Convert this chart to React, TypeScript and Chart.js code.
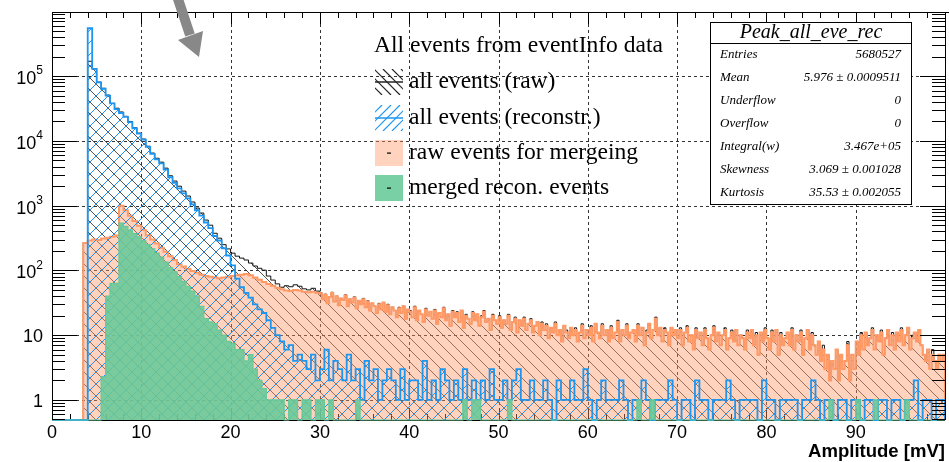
import React, { useEffect, useRef } from 'react';
import { Chart, registerables } from 'chart.js';

Chart.register(...registerables);

// ---------- axis ranges ----------
const X_MIN = 0;
const X_MAX = 100;
const Y_MIN = 0.49;
const Y_MAX = 9.8e5;

// ---------- all events (raw) ----------
// 0.5 mV bins from 3.5 mV to 30 mV
const RAW_HEAD_START = 3.5;
const RAW_HEAD_BIN = 0.5;
const rawHeadCounts = [
  270, 170000, 130000, 81000, 65000, 51000, 38000, 32000, 28000,
  24000, 20000, 16000, 13200, 10700, 8300, 6500, 5400, 4700, 3800,
  2900, 2400, 2000, 1680, 1410, 1140, 920, 770, 600, 500,
  375, 315, 250, 215, 185, 166, 155, 145, 130, 117,
  108, 101, 82, 71, 62, 55, 58, 56, 60, 57,
  52, 50, 53, 48,
];
// 0.25 mV bins from 30 mV to 100 mV
const RAW_TAIL_START = 30;
const RAW_TAIL_BIN = 0.25;
const rawTailCounts = [
  45, 36, 43, 31, 39, 46, 33, 40, 30, 37,
  35, 42, 28, 36, 32, 39, 26, 34, 30, 37,
  27, 34, 24, 31, 28, 22, 31, 25, 32, 23,
  30, 21, 27, 24, 19, 27, 22, 28, 18, 25,
  24, 19, 28, 17, 24, 21, 16, 26, 20, 23,
  18, 25, 15, 22, 19, 27, 17, 21, 14, 24,
  19, 23, 16, 24, 13, 21, 18, 15, 23, 17,
  21, 14, 20, 24, 16, 18, 12, 21, 17, 15,
  20, 13, 17, 15, 21, 12, 16, 19, 11, 17,
  14, 19, 12, 15, 18, 11, 14, 16, 10, 16,
  12, 15, 9, 13, 11, 16, 10, 12, 8, 14,
  12, 9, 13, 10, 13, 8, 11, 15, 9, 12,
  10, 14, 8, 15, 11, 9, 15, 10, 12, 8,
  14, 9, 11, 17, 8, 12, 10, 15, 9, 11,
  12, 8, 15, 10, 13, 7, 12, 15, 9, 12,
  19, 10, 13, 8, 13, 11, 7, 13, 11, 12,
  9, 13, 7, 11, 14, 8, 10, 6, 13, 9,
  11, 7, 13, 9, 6, 10, 14, 8, 11, 7,
  10, 13, 6, 9, 12, 8, 12, 7, 10, 9,
  6, 12, 9, 12, 7, 11, 5, 11, 8, 13,
  9, 6, 12, 8, 12, 5, 11, 7, 9, 11,
  7, 13, 6, 10, 8, 12, 5, 9, 12, 6,
  11, 7, 5, 8, 4, 7, 3, 5, 2, 4,
  3, 6, 2, 5, 3, 4, 8, 2, 5, 3,
  8, 5, 11, 6, 11, 7, 9, 13, 6, 10,
  8, 12, 5, 9, 12, 7, 11, 6, 11, 8,
  13, 7, 10, 13, 6, 10, 11, 8, 12, 7,
  5, 4, 6, 3, 6, 4, 3, 5, 4, 5,
];

// ---------- all events (reconstr.) : 0.5 mV bins from 4.0 mV ----------
const REC_START = 4.0;
const REC_BIN = 0.5;
const recCounts = [
  550000, 130000, 80000, 64000, 50000, 38000, 31000, 27000,
  23500, 19500, 15700, 13000, 10500, 8100, 6300, 5200, 4500, 3600,
  2750, 2250, 1850, 1550, 1300, 1050, 850, 700, 550, 450,
  340, 290, 220, 170, 120, 75, 55, 45, 38, 30,
  25, 22, 17, 13, 10, 8, 6, 7, 4, 5,
  4, 3, 5, 2, 3, 6, 2, 4, 3, 2,
  5, 2, 3, 1, 4, 2, 3, 1, 2, 3,
  2, 1, 3, 1, 2, 2, 1, 4, 1, 2,
  1, 3, 2, 1, 2, 1, 3, 1, 2, 1,
  2, 1, 3, 1, 1, 2, 1, 2, 3, 1,
  1, 2, 1, 1, 2, 1, 0, 2, 1, 1,
  2, 1, 1, 3, 1, 0, 1, 2, 1, 1,
  1, 2, 1, 0, 1, 1, 2, 1, 0, 1,
  1, 1, 2, 1, 0, 1, 1, 0, 2, 1,
  1, 0, 1, 1, 1, 2, 1, 0, 1, 1,
  1, 1, 0, 2, 1, 1, 0, 1, 1, 1,
  1, 0, 1, 1, 2, 1, 0, 1, 1, 0,
  1, 1, 0, 1, 1, 0, 1, 1, 0, 1,
  1, 0, 1, 1, 0, 1, 1, 2, 0, 1,
  1, 0, 1, 1,
];

// ---------- raw events for mergeing ----------
const MRAW_HEAD_START = 3.5;
const MRAW_HEAD_BIN = 0.5;
const mergeRawHeadCounts = [
  265, 290, 300, 295, 310, 320, 330, 345, 1000,
  850, 700, 580, 490, 420, 350, 300, 260, 225, 195,
  165, 145, 125, 115, 105, 98, 92, 86, 82, 80,
  78, 76, 78, 80, 82, 84, 86, 88, 84, 78,
  72, 66, 62, 58, 54, 51, 49, 48, 50, 49,
  47, 46, 47, 45,
];
const MRAW_TAIL_START = 30;
const MRAW_TAIL_BIN = 0.25;
const mergeRawTailCounts = [
  44, 36, 42, 31, 39, 45, 33, 40, 29, 37,
  35, 41, 28, 36, 32, 38, 26, 34, 30, 36,
  27, 33, 24, 31, 28, 22, 30, 25, 32, 23,
  29, 21, 27, 24, 19, 26, 22, 28, 18, 25,
  23, 19, 27, 17, 24, 21, 16, 25, 20, 23,
  18, 24, 15, 22, 19, 26, 17, 21, 14, 23,
  19, 22, 16, 24, 13, 20, 18, 15, 22, 17,
  21, 14, 19, 23, 16, 18, 12, 20, 17, 15,
  19, 13, 17, 15, 20, 12, 16, 18, 11, 17,
  14, 18, 12, 15, 17, 11, 14, 16, 10, 15,
  12, 14, 9, 13, 11, 15, 10, 12, 8, 14,
  11, 9, 13, 10, 12, 8, 11, 14, 9, 12,
  10, 13, 8, 15, 11, 9, 14, 10, 12, 8,
  13, 9, 11, 16, 8, 12, 10, 14, 9, 11,
  12, 8, 14, 10, 13, 7, 11, 15, 9, 12,
  18, 10, 13, 8, 12, 11, 7, 13, 10, 12,
  9, 12, 7, 11, 13, 8, 10, 6, 12, 9,
  11, 7, 12, 9, 6, 10, 13, 8, 11, 7,
  10, 12, 6, 9, 11, 8, 12, 7, 10, 9,
  6, 11, 9, 12, 7, 10, 5, 11, 8, 12,
  9, 6, 11, 8, 12, 5, 10, 7, 9, 11,
  7, 12, 6, 10, 8, 11, 5, 9, 12, 6,
  10, 7, 5, 8, 4, 6, 3, 5, 2, 4,
  3, 6, 2, 5, 3, 4, 7, 2, 5, 3,
  8, 5, 10, 6, 11, 7, 9, 12, 6, 10,
  8, 11, 5, 9, 12, 7, 10, 6, 11, 8,
  12, 7, 10, 13, 6, 9, 11, 8, 12, 7,
  5, 4, 6, 3, 5, 4, 3, 5, 4, 5,
];

// ---------- merged recon. events : 0.5 mV bins from 5.5 mV ----------
const MERGED_START = 5.5;
const MERGED_BIN = 0.5;
const mergedCounts = [
  2.3, 40, 63, 63,
  540, 480, 420, 370, 330, 290, 250, 215, 185, 160,
  135, 110, 95, 80, 68, 57, 48, 40, 28, 18,
  16, 15, 12, 10, 8, 7.5, 6, 6, 4, 5,
  3, 2, 1.5, 1, 1, 1, 1, 0, 1, 1,
  0, 1, 1, 0, 1, 1, 0, 1, 0, 0,
  0, 0, 0, 1, 0, 0, 0, 0, 0, 0,
  0, 0, 0, 0, 0, 0, 0, 0, 0, 0,
  0, 0, 0, 0, 0, 0, 0, 1, 0, 1,
  1, 0, 0, 0, 0, 0, 0, 1, 0, 0,
  0, 0, 0, 0, 0, 0, 0, 0, 0, 0,
  0, 0, 0, 0, 0, 0, 0, 0, 0, 0,
  0, 0, 0, 0, 0, 0, 1, 0, 0, 1,
  0, 0, 0, 0, 0, 0, 0, 0, 0, 0,
  0, 0, 0, 0, 0, 0, 0, 0, 0, 0,
  0, 0, 0, 0, 0, 0, 0, 0, 0, 0,
  0, 0, 0, 0, 0, 0, 0, 0, 0, 1,
  0, 0, 0, 0, 0, 1, 0, 0, 0, 1,
  0, 0, 0, 0, 0, 0, 1, 0, 0, 0,
  0, 0, 0, 0, 0,
];

const xTickValues = [0, 10, 20, 30, 40, 50, 60, 70, 80, 90];
const yDecadeValues = [1, 10, 100, 1000, 10000, 100000];
const xAxisTitle = 'Amplitude [mV]';

const legendTitle = 'All events from eventInfo data';
const legendLabels = ['all events (raw)', 'all events (reconstr.)', 'raw events for mergeing', 'merged recon. events'];

const statsTitle = 'Peak_all_eve_rec';
const statsNames = ['Entries', 'Mean', 'Underflow', 'Overflow', 'Integral(w)', 'Skewness', 'Kurtosis'];
const statsValues = ['5680527', '5.976 \u00b1 0.0009511', '0', '0', '3.467e+05', '3.069 \u00b1 0.001028', '35.53 \u00b1 0.002055'];

// ---------- styles ----------
const C_BLACK = '#111111';
const C_BLUE = '#1e96f0';
const C_ORANGE = '#ff9966';
const C_GREEN = '#66c999';
const F_ORANGE = 'rgba(255, 150, 100, 0.42)';
const F_GREEN = 'rgba(102, 201, 153, 0.88)';
const SANS = '"Liberation Sans", Arial, Helvetica, sans-serif';
const SERIF = '"Liberation Serif", "Times New Roman", serif';

type Part = { start: number; bin: number; counts: number[] };

function histPoints(parts: Part[]) {
  const pts: { x: number; y: number }[] = [];
  pts.push({ x: X_MIN, y: Y_MIN });
  pts.push({ x: parts[0].start, y: Y_MIN });
  let end = parts[0].start;
  for (const p of parts) {
    p.counts.forEach((c, i) => pts.push({ x: p.start + i * p.bin, y: c > 0 ? c : Y_MIN }));
    end = p.start + p.counts.length * p.bin;
  }
  pts.push({ x: end, y: Y_MIN });
  if (end < X_MAX) pts.push({ x: X_MAX, y: Y_MIN });
  return pts;
}

function makePattern(ctx: CanvasRenderingContext2D, w: number, h: number, draw: (g: CanvasRenderingContext2D) => void) {
  const c = document.createElement('canvas');
  c.width = w;
  c.height = h;
  const g = c.getContext('2d')!;
  draw(g);
  return ctx.createPattern(c, 'repeat')!;
}

export default function App() {
  const ref = useRef<HTMLCanvasElement>(null);

  useEffect(() => {
    const canvas = ref.current!;
    const ctx = canvas.getContext('2d')!;

    const P = 12;
    const blackHatch = makePattern(ctx, P, P, (g) => {
      g.fillStyle = 'rgba(50, 50, 50, 0.85)';
      for (let i = 0; i < P; i++) g.fillRect(i, i, 1, 1);
    });
    const blueHatch = makePattern(ctx, P, P, (g) => {
      g.fillStyle = '#1e90ff';
      for (let i = 0; i < P; i++) g.fillRect(i, P - 1 - i, 1, 1);
    });

    const line = (c: CanvasRenderingContext2D, x1: number, y1: number, x2: number, y2: number) => {
      c.beginPath();
      c.moveTo(x1, y1);
      c.lineTo(x2, y2);
      c.stroke();
    };

    const decor = {
      id: 'decor',
      beforeDatasetsDraw(chart: any) {
        const c: CanvasRenderingContext2D = chart.ctx;
        const a = chart.chartArea;
        const xs = chart.scales.x;
        const ys = chart.scales.y;
        c.save();
        c.strokeStyle = '#333';
        c.lineWidth = 1;
        c.setLineDash([3, 3]);
        for (const v of xTickValues) {
          if (v <= X_MIN) continue;
          const px = Math.round(xs.getPixelForValue(v)) + 0.5;
          line(c, px, a.top, px, a.bottom);
        }
        for (const d of yDecadeValues) {
          const py = Math.round(ys.getPixelForValue(d)) + 0.5;
          line(c, a.left, py, a.right, py);
        }
        c.setLineDash([]);
        c.strokeStyle = '#000';
        line(c, a.left, a.bottom + 0.5, a.right, a.bottom + 0.5);
        for (let v = X_MIN; v < X_MAX; v += 2) {
          const px = Math.round(xs.getPixelForValue(v)) + 0.5;
          const len = v % 10 === 0 ? 12 : 6;
          line(c, px, a.bottom, px, a.bottom - len);
        }
        c.restore();
      },
      afterDatasetsDraw(chart: any) {
        const c: CanvasRenderingContext2D = chart.ctx;
        const a = chart.chartArea;
        const xs = chart.scales.x;
        const ys = chart.scales.y;
        c.save();
        c.strokeStyle = '#000';
        c.lineWidth = 1;
        line(c, a.left + 0.5, a.top, a.left + 0.5, a.bottom);
        line(c, a.left, a.top + 0.5, canvas.width, a.top + 0.5);
        line(c, a.right + 0.5, a.top, a.right + 0.5, a.bottom);
        for (let v = X_MIN; v < X_MAX; v += 2) {
          const px = Math.round(xs.getPixelForValue(v)) + 0.5;
          const len = v % 10 === 0 ? 12 : 6;
          line(c, px, a.top, px, a.top + len);
        }
        for (let k = -1; k <= 5; k++) {
          for (let m = 1; m <= 9; m++) {
            const v = m * Math.pow(10, k);
            if (v < Y_MIN || v > Y_MAX) continue;
            const py = Math.round(ys.getPixelForValue(v)) + 0.5;
            const len = m === 1 ? 25 : 13;
            line(c, a.left, py, a.left + len, py);
            line(c, a.right, py, a.right - len, py);
          }
        }
        c.fillStyle = '#000';
        c.font = `18px ${SANS}`;
        c.textAlign = 'center';
        c.textBaseline = 'middle';
        for (const v of xTickValues) c.fillText(String(v), xs.getPixelForValue(v), 433);
        for (const d of yDecadeValues) {
          const py = ys.getPixelForValue(d);
          const k = Math.round(Math.log10(d));
          c.textAlign = 'right';
          if (k <= 1) {
            c.font = `18px ${SANS}`;
            c.fillText(k === 0 ? '1' : '10', 43, py + 2);
          } else {
            c.font = `12px ${SANS}`;
            const e = String(k);
            const ew = c.measureText(e).width;
            c.fillText(e, 43, py - 5);
            c.font = `18px ${SANS}`;
            c.fillText('10', 43 - ew, py + 3);
          }
        }
        c.font = `bold 16px ${SANS}`;
        const tw = c.measureText(xAxisTitle).width;
        c.font = `bold ${((16 * 137) / tw).toFixed(2)}px ${SANS}`;
        c.textAlign = 'right';
        c.fillText(xAxisTitle, a.right, 452);

        // legend
        c.font = `20px ${SERIF}`;
        const hw = c.measureText(legendTitle).width;
        const fs = (20 * 289) / hw;
        c.font = `${fs.toFixed(2)}px ${SERIF}`;
        c.textAlign = 'left';
        c.fillText(legendTitle, 374, 46);
        const rowY = [82, 118, 153, 188];
        const sx = 375;
        const sw = 28;
        const sh = 26;
        legendLabels.forEach((lab, i) => {
          const cy = rowY[i];
          const top = cy - sh / 2;
          c.save();
          if (i === 0 || i === 1) {
            c.beginPath();
            c.rect(sx, top, sw, sh);
            c.clip();
            c.strokeStyle = i === 0 ? '#222' : C_BLUE;
            c.lineWidth = 1.2;
            for (let k = -28; k <= 28; k += 9) {
              if (i === 0) line(c, sx + k, top, sx + k + sh, top + sh);
              else line(c, sx + k, top + sh, sx + k + sh, top);
            }
            c.lineWidth = 1.5;
            line(c, sx, cy, sx + sw, cy);
          } else {
            c.fillStyle = i === 2 ? F_ORANGE : F_GREEN;
            c.fillRect(sx, top, sw, sh);
            c.fillStyle = '#000';
            c.fillRect(sx + 12, cy - 0.5, 4, 1.2);
          }
          c.restore();
          c.fillStyle = '#000';
          c.font = `${fs.toFixed(2)}px ${SERIF}`;
          c.textAlign = 'left';
          c.fillText(lab, 409, cy);
        });

        // stats box
        const bx = 710.5, by = 22.5, bw = 201, bh = 182;
        c.fillStyle = '#fff';
        c.fillRect(bx, by, bw, bh);
        c.strokeStyle = '#000';
        c.lineWidth = 1;
        c.strokeRect(bx, by, bw, bh);
        line(c, bx, 43.5, bx + bw, 43.5);
        c.fillStyle = '#000';
        c.font = `italic 20px ${SERIF}`;
        c.textAlign = 'center';
        c.fillText(statsTitle, bx + bw / 2, 33);
        c.font = `italic 13px ${SERIF}`;
        statsNames.forEach((n, i) => {
          const y = 55 + i * 23;
          c.textAlign = 'left';
          c.fillText(n, 720, y);
          c.textAlign = 'right';
          c.fillText(statsValues[i], 901, y);
        });

        // arrow
        c.strokeStyle = '#888';
        c.fillStyle = '#888';
        c.lineWidth = 10;
        line(c, 177, -4, 190, 35);
        c.beginPath();
        c.moveTo(178, 40);
        c.lineTo(203, 31);
        c.lineTo(199, 57);
        c.closePath();
        c.fill();
        c.restore();
      },
    };

    const common = {
      fill: 'start',
      stepped: true,
      pointRadius: 0,
      pointHoverRadius: 0,
      tension: 0,
      clip: { left: 0, top: 0, right: 0, bottom: 1 },
    };

    const chart = new Chart(canvas, {
      type: 'line',
      data: {
        datasets: [
          {
            ...common,
            label: legendLabels[3],
            data: histPoints([{ start: MERGED_START, bin: MERGED_BIN, counts: mergedCounts }]),
            borderColor: C_GREEN,
            backgroundColor: F_GREEN,
            borderWidth: 1.2,
          },
          {
            ...common,
            label: legendLabels[1],
            data: histPoints([{ start: REC_START, bin: REC_BIN, counts: recCounts }]),
            borderColor: C_BLUE,
            backgroundColor: blueHatch,
            borderWidth: 1.8,
          },
          {
            ...common,
            label: legendLabels[2],
            data: histPoints([
              { start: MRAW_HEAD_START, bin: MRAW_HEAD_BIN, counts: mergeRawHeadCounts },
              { start: MRAW_TAIL_START, bin: MRAW_TAIL_BIN, counts: mergeRawTailCounts },
            ]),
            borderColor: C_ORANGE,
            backgroundColor: F_ORANGE,
            borderWidth: 2,
          },
          {
            ...common,
            label: legendLabels[0],
            data: histPoints([
              { start: RAW_HEAD_START, bin: RAW_HEAD_BIN, counts: rawHeadCounts },
              { start: RAW_TAIL_START, bin: RAW_TAIL_BIN, counts: rawTailCounts },
            ]),
            borderColor: C_BLACK,
            backgroundColor: blackHatch,
            borderWidth: 1,
          },
        ] as any,
      },
      options: {
        animation: false,
        responsive: false,
        devicePixelRatio: 1,
        events: [],
        layout: { padding: { top: 12, right: 4, left: 0, bottom: 0 } },
        plugins: { legend: { display: false }, tooltip: { enabled: false }, title: { display: false } },
        scales: {
          x: {
            type: 'linear',
            min: X_MIN,
            max: X_MAX,
            ticks: { display: false },
            grid: { display: false, drawTicks: false },
            border: { display: false },
            afterFit: (s: any) => {
              s.height = 42;
            },
          },
          y: {
            type: 'logarithmic',
            min: Y_MIN,
            max: Y_MAX,
            ticks: { display: false },
            grid: { display: false, drawTicks: false },
            border: { display: false },
            afterFit: (s: any) => {
              s.width = 52;
            },
          },
        },
      } as any,
      plugins: [decor],
    });

    return () => chart.destroy();
  }, []);

  return (
    <div style={{ position: 'fixed', left: 0, top: 0, width: 949, height: 462, background: '#fff' }}>
      <canvas ref={ref} width={949} height={462} style={{ display: 'block', width: 949, height: 462 }} />
    </div>
  );
}
